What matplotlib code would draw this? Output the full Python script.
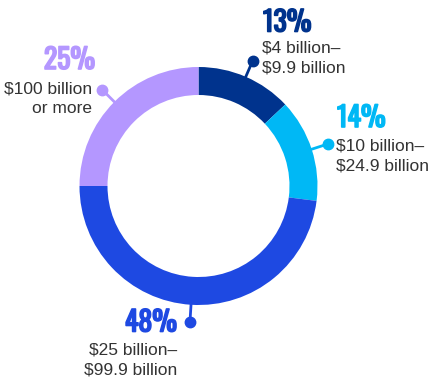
import numpy as np
import matplotlib.pyplot as plt
import matplotlib.patheffects as pe

# data
shares = [13, 14, 48, 25]
pct_labels = ["13%", "14%", "48%", "25%"]
range_labels = ["$4 billion–\n$9.9 billion",
                "$10 billion–\n$24.9 billion",
                "$25 billion–\n$99.9 billion",
                "$100 billion\nor more"]
colors = ["#00338D", "#00B8F5", "#1E49E2", "#B497FF"]

W, H = 444, 384
cx, cy = 198.5, H - 186
R, ring = 119, 28

fig = plt.figure(figsize=(W / 100, H / 100), dpi=100)
ax = fig.add_axes([0, 0, 1, 1])
ax.pie(shares, colors=colors, radius=R, center=(cx, cy), startangle=90,
       counterclock=False, wedgeprops=dict(width=ring, linewidth=0))
ax.set_xlim(0, W)
ax.set_ylim(0, H)
ax.set_aspect("equal")
ax.axis("off")

# leader lines at slice mid angles
cum = np.cumsum([0] + shares[:-1])
for i, s in enumerate(shares):
    mid = np.deg2rad(90 - (cum[i] + s / 2) * 3.6)
    x0, y0 = cx + (R - 2) * np.cos(mid), cy + (R - 2) * np.sin(mid)
    x1, y1 = cx + 136 * np.cos(mid), cy + 136 * np.sin(mid)
    ax.plot([x0, x1], [y0, y1], color=colors[i], lw=2, solid_capstyle="butt")
    ax.plot(x1, y1, "o", color=colors[i], ms=7.5)

# text positions (x, y-from-top, alignment)
pct_pos = [(263, 23, "left"), (337, 118.5, "left"), (177, 323, "right"), (95, 60.5, "right")]
lab_pos = [(262, 58, "left"), (336, 156, "left"), (177, 360, "right"), (92, 99, "right")]

pfont = ["Oswald", "Roboto Condensed", "DejaVu Sans"]
for i in range(len(shares)):
    x, y, ha = pct_pos[i]
    ax.text(x, H - y, pct_labels[i], color=colors[i], fontsize=20,
            fontweight="bold", family=pfont, ha=ha, va="center",
            path_effects=[pe.withStroke(linewidth=1.2, foreground=colors[i])])
    x, y, ha = lab_pos[i]
    ax.text(x, H - y, range_labels[i], color="#333333", fontsize=12.5,
            family="Liberation Sans", ha=ha, va="center", linespacing=1.4,
            multialignment=ha)

fig.savefig("out.png", dpi=100)
